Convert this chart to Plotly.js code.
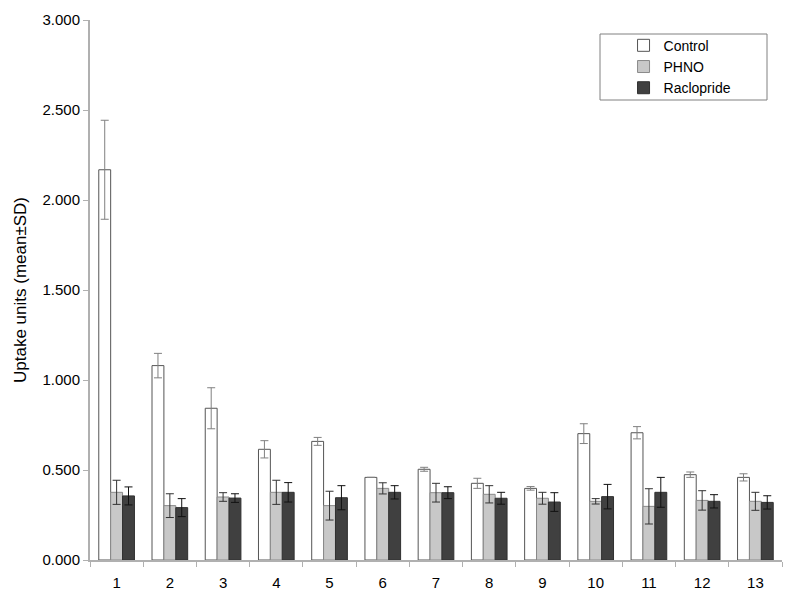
<!DOCTYPE html>
<html>
<head>
<meta charset="utf-8">
<script src="https://cdn.plot.ly/plotly-3.0.1.min.js"></script>
<style>
  html, body { margin: 0; padding: 0; background: #fff; }
  #plot { width: 795px; height: 600px; }
</style>
</head>
<body>
<div id="plot"></div>
<script>
const regions = ["1", "2", "3", "4", "5", "6", "7", "8", "9", "10", "11", "12", "13"];

const controlMean = [2.168, 1.080, 0.843, 0.615, 0.659, 0.459, 0.504, 0.426, 0.398, 0.702, 0.707, 0.474, 0.459];
const controlSd = [0.275, 0.068, 0.114, 0.048, 0.022, 0.0, 0.011, 0.028, 0.010, 0.055, 0.034, 0.015, 0.020];

const phnoMean = [0.376, 0.302, 0.350, 0.376, 0.302, 0.398, 0.374, 0.365, 0.343, 0.326, 0.298, 0.331, 0.326];
const phnoSd = [0.067, 0.066, 0.024, 0.067, 0.080, 0.031, 0.052, 0.048, 0.033, 0.015, 0.098, 0.054, 0.050];

const racloMean = [0.356, 0.291, 0.344, 0.376, 0.346, 0.376, 0.374, 0.343, 0.322, 0.352, 0.376, 0.326, 0.320];
const racloSd = [0.050, 0.050, 0.024, 0.054, 0.067, 0.037, 0.033, 0.033, 0.052, 0.068, 0.083, 0.037, 0.037];

const yTicks = [0, 0.5, 1, 1.5, 2, 2.5, 3];

function barTrace(name, means, sds, fill, outline, errColor) {
  return {
    type: "bar",
    name: name,
    x: regions,
    y: means,
    marker: {
      color: fill,
      line: { color: outline, width: 1 }
    },
    error_y: {
      type: "data",
      array: sds,
      visible: true,
      color: errColor,
      thickness: 1,
      width: 4
    }
  };
}

const traces = [
  barTrace("Control", controlMean, controlSd, "#ffffff", "#555555", "#808080"),
  barTrace("PHNO", phnoMean, phnoSd, "#c8c8c8", "#8a8a8a", "#333333"),
  barTrace("Raclopride", racloMean, racloSd, "#404040", "#303030", "#111111")
];

const layout = {
  width: 795,
  height: 600,
  margin: { l: 90, r: 13, t: 20, b: 40 },
  paper_bgcolor: "#ffffff",
  plot_bgcolor: "#ffffff",
  font: { family: "Liberation Sans, Arial, sans-serif", color: "#000" },
  barmode: "group",
  bargap: 0.33,
  bargroupgap: 0,
  showlegend: true,
  legend: {
    x: 0.771,
    y: 0.982,
    xanchor: "left",
    yanchor: "top",
    bgcolor: "rgba(0,0,0,0)",
    borderwidth: 0,
    font: { size: 14 },
    tracegroupgap: 3
  },
  shapes: [
    {
      type: "rect",
      xref: "paper",
      yref: "paper",
      x0: (600 - 90) / 692,
      x1: (767 - 90) / 692,
      y0: (560 - 100) / 540,
      y1: (560 - 34) / 540,
      line: { color: "#808080", width: 1 },
      fillcolor: "rgba(0,0,0,0)"
    }
  ],
  xaxis: {
    type: "category",
    range: [-0.5, 12.5],
    showline: true,
    linecolor: "#b0b0b0",
    linewidth: 2,
    ticks: "outside",
    tickson: "boundaries",
    ticklen: 5,
    tickcolor: "#b0b0b0",
    tickfont: { size: 15 },
    ticklabelstandoff: 8,
    showgrid: false,
    zeroline: false
  },
  yaxis: {
    range: [0, 3],
    tickvals: yTicks,
    tickformat: ".3f",
    showline: true,
    linecolor: "#b0b0b0",
    linewidth: 2,
    ticks: "outside",
    ticklen: 5,
    tickcolor: "#b0b0b0",
    tickfont: { size: 15 },
    showgrid: false,
    zeroline: false,
    title: { text: "Uptake units (mean±SD)", font: { size: 17 }, standoff: 12 }
  }
};

Plotly.newPlot("plot", traces, layout, { staticPlot: true, displayModeBar: false });
</script>
</body>
</html>
